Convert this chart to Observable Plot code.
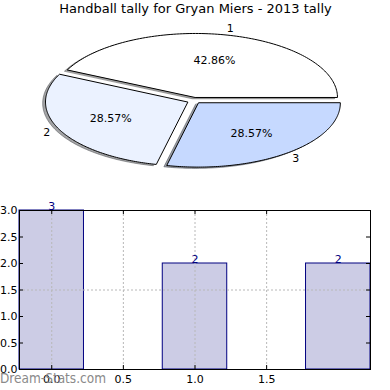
<!DOCTYPE html>
<html><head><meta charset="utf-8">
<script src="https://cdn.jsdelivr.net/npm/d3@7"></script>
<script src="https://cdn.jsdelivr.net/npm/@observablehq/plot@0.6"></script>
<style>
body{margin:0;background:#fff;font-family:"DejaVu Sans",sans-serif;}
#wrap{position:relative;width:390px;height:390px;overflow:hidden;background:#fff}
#pie,#bar{position:absolute;left:0}
#pie{top:0}
#bar{top:195px}
#wm{position:absolute;left:0;top:370px;font-size:13.5px;line-height:16px;color:#8a8a8a;font-family:"DejaVu Sans Condensed","DejaVu Sans",sans-serif;z-index:5;white-space:nowrap}
svg{display:block}
</style></head><body>
<div id="wrap"><div id="pie"></div><div id="bar"></div><div id="wm">Dream-Stats.com</div></div>
<script>
const title = "Handball tally for Gryan Miers - 2013 tally";
const pieLabels = ["1", "2", "3"];
const pieValues = [3, 2, 2];
const pieColors = ["#ffffff", "#ebf2ff", "#c6d9ff"];
const barX = [0, 1, 2];
const barValues = [3, 2, 2];
const xTicks = [0, 0.5, 1, 1.5];
const yTicks = [0, 0.5, 1, 1.5, 2, 2.5, 3];
const yGrid = [1.5];

const font = "DejaVu Sans";
const total = d3.sum(pieValues);
const explode = 0.05;

// build wedges
let cum = 0;
const wedges = pieValues.map((v, i) => {
  const a0 = cum / total * 2 * Math.PI;
  cum += v;
  const a1 = cum / total * 2 * Math.PI;
  const mid = (a0 + a1) / 2;
  const cx = explode * Math.cos(mid), cy = explode * Math.sin(mid);
  const pts = [{x: cx, y: cy}];
  const N = 120;
  for (let k = 0; k <= N; k++) {
    const a = a0 + (a1 - a0) * k / N;
    pts.push({x: cx + Math.cos(a), y: cy + Math.sin(a)});
  }
  return {
    i, v, pts, color: pieColors[i], label: pieLabels[i],
    pct: (v / total * 100).toFixed(2) + "%",
    px: cx + 0.6 * Math.cos(mid), py: cy + 0.6 * Math.sin(mid),
    lx: cx + 1.1 * Math.cos(mid), ly: cy + 1.1 * Math.sin(mid)
  };
});

function shade(c) {
  const r = d3.rgb(c);
  return d3.rgb(r.r * 0.3, r.g * 0.3, r.b * 0.3).formatHex();
}

const pieMarks = [];
for (const w of wedges) {
  pieMarks.push(Plot.line(w.pts.map(p => ({x: p.x - 0.02, y: p.y - 0.02})), {
    x: "x", y: "y", curve: "linear-closed", fill: shade(w.color), stroke: shade(w.color),
    fillOpacity: 0.5, strokeOpacity: 0.5, strokeWidth: 1
  }));
}
for (const w of wedges) {
  pieMarks.push(Plot.line(w.pts, {
    x: "x", y: "y", curve: "linear-closed", fill: w.color, stroke: "black", strokeWidth: 1
  }));
}
pieMarks.push(Plot.text(wedges, {x: "px", y: "py", text: "pct", fontSize: 11, fill: "black", fontFamily: font}));
pieMarks.push(Plot.text(wedges, {x: "lx", y: "ly", text: "label", fontSize: 11, fill: "black", fontFamily: font,
  textAnchor: d => d.lx > 0 ? "start" : "end"}));
pieMarks.push(Plot.text([title], {frameAnchor: "top", dy: 3, fontSize: 13, fill: "black", fontFamily: font}));

const pie = Plot.plot({
  width: 390, height: 195,
  marginTop: 0, marginBottom: 0, marginLeft: 0, marginRight: 0,
  x: {domain: [-193.4 / 142, (390 - 193.4) / 142], range: [0, 390], axis: null},
  y: {domain: [-(195 - 100.1) / 64, 100.1 / 64], range: [195, 0], axis: null},
  style: {fontFamily: font, background: "white"},
  marks: pieMarks
});
document.getElementById("pie").appendChild(pie);

// bar chart
const barData = barX.map((x, i) => ({x, v: barValues[i]}));
const halfW = 0.225;
const frameW = 390 - 19 - 20, frameH = 195 - 15 - 21;
const grid = {stroke: "#b8b8b8", strokeDasharray: "2,2", strokeWidth: 1};

const bar = Plot.plot({
  width: 390, height: 195,
  marginTop: 15, marginBottom: 21, marginLeft: 19, marginRight: 20,
  x: {domain: [-halfW, 2 + halfW], ticks: xTicks, tickFormat: d3.format(".1f"), tickSize: 0, tickPadding: 6, label: null},
  y: {domain: [0, 3], ticks: yTicks, tickFormat: d3.format(".1f"), tickSize: 0, tickPadding: 2, label: null},
  style: {fontFamily: font, fontSize: "11px", background: "white", color: "black"},
  marks: [
    Plot.rect(barData, {x1: d => d.x - halfW, x2: d => d.x + halfW, y1: 0, y2: "v", fill: "#cccce5", stroke: "#000080", strokeWidth: 1}),
    Plot.ruleX(xTicks, {x: d => d, ...grid}),
    Plot.ruleY(yGrid, {y: d => d, ...grid}),
    Plot.frame({stroke: "black", strokeWidth: 1}),
    Plot.tickY(yTicks, {y: d => d, insetRight: frameW - 4, stroke: "black"}),
    Plot.tickY(yTicks, {y: d => d, insetLeft: frameW - 4, stroke: "black"}),
    Plot.tickX(xTicks, {x: d => d, insetBottom: frameH - 4, stroke: "black"}),
    Plot.tickX(xTicks, {x: d => d, insetTop: frameH - 4, stroke: "black"}),
    Plot.text(barData, {x: "x", y: "v", text: d => String(d.v), lineAnchor: "bottom", dy: -1, fill: "#000080", fontSize: 11, fontFamily: font})
  ]
});
document.getElementById("bar").appendChild(bar);
</script>
</body></html>
